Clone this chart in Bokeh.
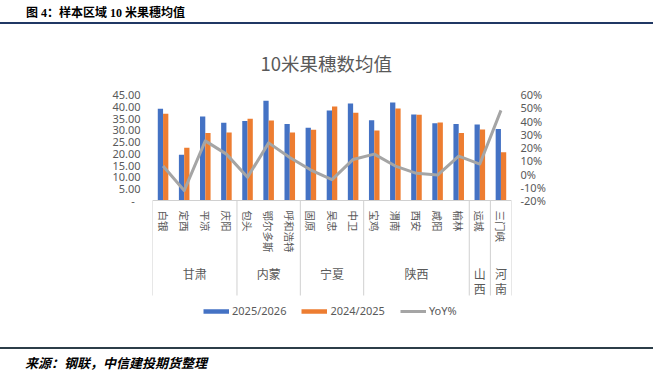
import math
from bokeh.plotting import figure
from bokeh.models import (Range1d, LinearAxis, FixedTicker, ColumnDataSource,
                          Legend, LegendItem, Div, Title)
from bokeh.layouts import column
from bokeh.embed import file_html
from bokeh.resources import INLINE
from bokeh.core.properties import value
from bokeh.transform import dodge

# ---------------- data ----------------
cities = ["白银", "定西", "平凉", "庆阳", "包头", "鄂尔多斯", "呼和浩特", "固原", "吴忠",
          "中卫", "宝鸡", "渭南", "西安", "咸阳", "榆林", "运城", "三门峡"]
provinces = ["甘肃", "内蒙", "宁夏", "陕西", "山西", "河南"]
province_sizes = [4, 3, 3, 5, 1, 1]
avg_2025_2026 = [38.9, 19.4, 35.7, 33.0, 33.8, 42.3, 32.5, 30.9, 38.2,
                 41.2, 34.1, 41.6, 36.5, 32.8, 32.5, 32.3, 30.4]
avg_2024_2025 = [36.8, 22.4, 28.7, 28.9, 34.7, 34.0, 28.9, 30.0, 39.9,
                 37.2, 29.7, 39.1, 36.4, 33.1, 28.7, 30.1, 20.5]
yoy_pct = [6.0, -12.5, 25.0, 15.0, -2.5, 23.5, 12.5, 3.0, -4.3,
           11.0, 15.0, 6.0, 0.5, -0.8, 13.5, 7.5, 48.0]
series_names = ["2025/2026", "2024/2025", "YoY%"]
left_ticks = [0, 5, 10, 15, 20, 25, 30, 35, 40, 45]
left_tick_labels = ["-", "5.00", "10.00", "15.00", "20.00", "25.00", "30.00", "35.00", "40.00", "45.00"]
right_ticks = [-20, -10, 0, 10, 20, 30, 40, 50, 60]
right_tick_labels = ["-20%", "-10%", "0%", "10%", "20%", "30%", "40%", "50%", "60%"]
chart_title = "10米果穗数均值"
header_text = "图 4：样本区域 10 米果穗均值"
source_text = "来源：钢联，中信建投期货整理"

# ---------------- layout constants ----------------
W = 653
HEAD_H = 25
FIG_H = 315
FOOT_H = 39
B_LEFT, B_RIGHT, B_TOP, B_BOTTOM = 152, 142, 69, 10
frame_h = FIG_H - B_TOP - B_BOTTOM          # 236
zero_px = 106                                # px from frame top to the zero line
lscale = zero_px / (left_ticks[-1] - left_ticks[0])
rscale = zero_px / (right_ticks[-1] - right_ticks[0])
y_lo = -(frame_h - zero_px) / lscale
r_lo = right_ticks[0] - (frame_h - zero_px) / rscale

GRAY = "#595959"
BLUE = "#4472C4"
ORANGE = "#ED7D31"
LINEC = "#A5A5A5"
SEPC = "#D0D0D0"

n = len(cities)
xs = [i + 0.5 for i in range(n)]
src = ColumnDataSource(dict(x=xs, city=cities, a=avg_2025_2026, b=avg_2024_2025, yoy=yoy_pct))

p = figure(width=W, height=FIG_H, output_backend="svg", toolbar_location=None,
           x_axis_type=None, y_axis_type=None,
           x_range=Range1d(0, n), y_range=Range1d(y_lo, left_ticks[-1]),
           min_border_left=B_LEFT, min_border_right=B_RIGHT,
           min_border_top=B_TOP, min_border_bottom=B_BOTTOM,
           outline_line_color=None, background_fill_color="white",
           border_fill_color="white")
p.extra_y_ranges = {"right": Range1d(r_lo, right_ticks[-1])}

p.title = Title(text=chart_title, align="left", text_font="Noto Sans CJK SC",
                text_font_size="18.5px", text_color=GRAY, text_font_style="normal",
                offset=108, standoff=38)

# axes
lax = LinearAxis(ticker=FixedTicker(ticks=left_ticks),
                 major_label_overrides={t: (lab if t != 0 else lab + "\u00a0\u00a0")
                                        for t, lab in zip(left_ticks, left_tick_labels)})
rax = LinearAxis(y_range_name="right", ticker=FixedTicker(ticks=right_ticks),
                 major_label_overrides={t: lab for t, lab in zip(right_ticks, right_tick_labels)})
for ax, so in ((lax, 12), (rax, 9)):
    ax.axis_line_color = None
    ax.major_tick_line_color = None
    ax.minor_tick_line_color = None
    ax.major_tick_out = 0
    ax.major_tick_in = 0
    ax.minor_tick_out = 0
    ax.major_label_standoff = so
    ax.major_label_text_font = "Noto Sans"
    ax.major_label_text_font_size = "11px"
    ax.major_label_text_color = GRAY
p.add_layout(lax, "left")
p.add_layout(rax, "right")

# bars
p.vbar(x=dodge("x", -0.125), top="a", width=0.25, bottom=0, source=src,
       fill_color=BLUE, line_color=None)
p.vbar(x=dodge("x", 0.125), top="b", width=0.25, bottom=0, source=src,
       fill_color=ORANGE, line_color=None)
r_line = p.line(x="x", y="yoy", source=src, y_range_name="right",
                line_color=LINEC, line_width=3, line_join="round")

# category axis: base line and group separators
bounds = [0]
for s in province_sizes:
    bounds.append(bounds[-1] + s)
sep_bottom = -95 / lscale
p.segment(x0=[0], x1=[n], y0=[0], y1=[0], line_color=SEPC, line_width=1)
p.segment(x0=bounds, x1=bounds, y0=[0] * len(bounds), y1=[sep_bottom] * len(bounds),
          line_color=SEPC, line_width=1)

# city labels (rotated)
p.text(x="x", y=-10 / lscale, text="city", source=src, angle=-math.pi / 2,
       text_align="left", text_baseline="middle",
       text_font=value("Noto Sans CJK SC"), text_font_size="10.5px", text_color=GRAY)

# province labels (narrow groups: characters stacked)
gx, gy, gt = [], [], []
for i, (pr, s) in enumerate(zip(provinces, province_sizes)):
    cx = (bounds[i] + bounds[i + 1]) / 2
    parts = [pr] if s > 1 else list(pr)
    for k, part in enumerate(parts):
        gx.append(cx)
        gy.append(-(64 + 15 * k) / lscale)
        gt.append(part)
p.text(x=gx, y=gy, text=gt, text_align="center", text_baseline="top",
       text_font=value("Noto Sans CJK SC"), text_font_size="12px", text_color=GRAY)

# legend proxies (single NaN point: nothing drawn on the plot)
r_pa = p.line(x=[0], y=[math.nan], line_color=BLUE, line_width=4.5)
r_pb = p.line(x=[0], y=[math.nan], line_color=ORANGE, line_width=4.5)
leg = Legend(items=[LegendItem(label=series_names[0], renderers=[r_pa]),
                    LegendItem(label=series_names[1], renderers=[r_pb]),
                    LegendItem(label=series_names[2], renderers=[r_line])],
             orientation="horizontal", location=(51, 12), padding=0, margin=0,
             spacing=15, label_standoff=3, glyph_width=26, glyph_height=14,
             label_height=14, label_text_font="Noto Sans", label_text_font_size="11px",
             label_text_color=GRAY, border_line_color=None, background_fill_alpha=0)
p.add_layout(leg)

header = Div(text=(
    '<div style="position:relative;width:653px;height:25px;">'
    '<div style="position:absolute;left:26px;top:8px;font-family:\'Liberation Serif\',\'Noto Sans CJK SC\';'
    'font-weight:bold;font-size:12px;line-height:10px;color:#000;white-space:nowrap;">'
    + header_text + '</div>'
    '<div style="position:absolute;left:0;top:22px;width:653px;height:2px;background:#203864;"></div>'
    '</div>'), width=W, height=HEAD_H, margin=0)

footer = Div(text=(
    '<div style="position:relative;width:653px;height:39px;">'
    '<div style="position:absolute;left:0;top:7px;width:653px;height:2px;background:#2C3E48;"></div>'
    '<div style="position:absolute;left:25px;top:15px;font-family:\'Noto Sans CJK SC\';'
    'font-weight:bold;font-style:italic;font-size:13px;line-height:16px;color:#000;white-space:nowrap;">'
    + source_text + '</div>'
    '</div>'), width=W, height=FOOT_H, margin=0)

p.margin = 0
layout = column(header, p, footer, spacing=0, margin=0)

open("out.html", "w").write(file_html(layout, INLINE))
